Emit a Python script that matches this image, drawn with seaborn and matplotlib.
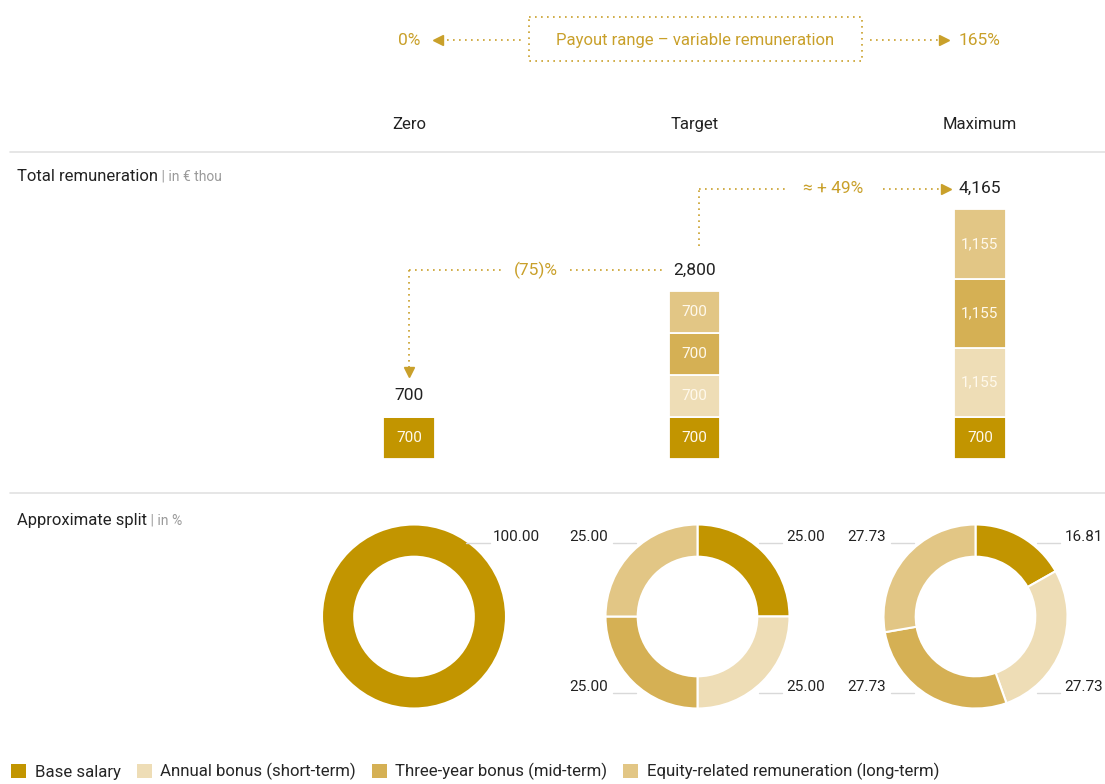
import matplotlib
matplotlib.use("Agg")
import matplotlib.pyplot as plt
from matplotlib.patches import Patch, Rectangle
from matplotlib.transforms import blended_transform_factory
import seaborn as sns
import numpy as np
import pandas as pd

# data
scenarios = ["Zero", "Target", "Maximum"]
components = ["Base salary", "Annual bonus (short-term)",
              "Three-year bonus (mid-term)", "Equity-related remuneration (long-term)"]
base_salary = [700, 700, 700]
annual_bonus = [0, 700, 1155]
three_year_bonus = [0, 700, 1155]
equity_related = [0, 700, 1155]
split_zero = [100.00, 0, 0, 0]
split_target = [25.00, 25.00, 25.00, 25.00]
split_maximum = [16.81, 27.73, 27.73, 27.73]
payout_min = "0%"
payout_max = "165%"
payout_title = "Payout range – variable remuneration"

palette = ["#C29500", "#EEDDB6", "#D5B054", "#E2C685"]
gold = "#C9A02A"
dark = "#222222"
grey_rule = "#e2e2e2"

sns.set_theme(style="white")
plt.rcParams["font.family"] = ["Roboto", "DejaVu Sans"]

W, H = 1105, 784
fig = plt.figure(figsize=(W / 100, H / 100), dpi=100)

def fx(px):
    return px / W

def fy(py):
    return 1 - py / H

# overlay in pixel coordinates for rules and titles
ov = fig.add_axes([0, 0, 1, 1])
ov.set_xlim(0, W)
ov.set_ylim(H, 0)
ov.axis("off")
ov.patch.set_alpha(0)

# bar axes
bx = fig.add_axes([fx(295), fy(458.5), (1094 - 295) / W, 299 / H])
layers = [base_salary, annual_bonus, three_year_bonus, equity_related]
bottom = np.zeros(len(scenarios))
for comp, vals, col in zip(components, layers, palette):
    sns.barplot(x=scenarios, y=vals, color=col, saturation=1, width=0.18,
                bottom=bottom, edgecolor="white", linewidth=1.3, ax=bx)
    for i, v in enumerate(vals):
        if v > 0:
            bx.text(i, bottom[i] + v / 2, f"{v:,}", ha="center", va="center",
                    color="#FFF9EC", fontsize=11)
    bottom = bottom + np.array(vals)
totals = bottom
bx.set_xlim(-0.4, 2.4)
bx.set_ylim(0, 5000)
bx.axis("off")

lab_off = 350
for i, t in enumerate(totals):
    bx.text(i, t + lab_off, f"{int(t):,}", ha="center", va="center", color=dark, fontsize=12.5)

dots = (0, (1, 2.6))
# Zero vs Target connector
p1 = (totals[0] - totals[1]) / totals[1] * 100
y1 = totals[1] + lab_off
bx.plot([0, 0.33], [y1, y1], ls=dots, color=gold, lw=1.2)
bx.plot([0.565, 0.89], [y1, y1], ls=dots, color=gold, lw=1.2)
bx.plot([0, 0], [y1, totals[0] + 800], ls=dots, color=gold, lw=1.2)
bx.plot(0, totals[0] + 740, marker="v", ms=7, color=gold, mec=gold)
bx.text(0.445, y1, f"({abs(p1):.0f})%", ha="center", va="center", color=gold, fontsize=12.5)

# Target vs Maximum connector
p2 = (totals[2] - totals[1]) / totals[1] * 100
y2 = totals[2] + lab_off
bx.plot([1.015, 1.015], [totals[1] + 760, y2], ls=dots, color=gold, lw=1.2)
bx.plot([1.015, 1.32], [y2, y2], ls=dots, color=gold, lw=1.2)
bx.plot([1.66, 1.86], [y2, y2], ls=dots, color=gold, lw=1.2)
bx.plot(1.88, y2, marker=">", ms=7, color=gold, mec=gold)
bx.text(1.485, y2, f"≈ + {p2:.0f}%", ha="center", va="center", color=gold, fontsize=12.5)

# column headers and payout range (x from bar axes, y in pixels)
colx = blended_transform_factory(bx.transData, ov.transData)
for i, s in enumerate(scenarios):
    ov.text(i, 124, s, transform=colx, ha="center", va="center", color=dark, fontsize=12)
ov.text(0, 40, payout_min, transform=colx, ha="center", va="center", color=gold, fontsize=12.5)
ov.text(2, 40, payout_max, transform=colx, ha="center", va="center", color=gold, fontsize=12.5)
ov.add_patch(Rectangle((529, 17), 333, 44, fill=False, ls=dots, ec=gold, lw=1.2))
ov.text(695.5, 40, payout_title, ha="center", va="center", color=gold, fontsize=12)
ov.plot([441, 524], [40, 40], ls=dots, color=gold, lw=1.2)
ov.plot(438, 40, marker="<", ms=7, color=gold, mec=gold)
ov.plot([870, 940], [40, 40], ls=dots, color=gold, lw=1.2)
ov.plot(944, 40, marker=">", ms=7, color=gold, mec=gold)

# rules and section titles
ov.plot([10, W], [152, 152], color=grey_rule, lw=1.2)
ov.plot([10, W], [493, 493], color=grey_rule, lw=1.2)
for ty, title, unit in [(176, "Total remuneration", " | in € thou"),
                        (520, "Approximate split", " | in %")]:
    t = ov.text(17, ty, title, ha="left", va="center", color=dark, fontsize=12)
    ov.annotate(unit, xy=(1, 0.02), xycoords=t, ha="left", va="bottom",
                color="#9a9a9a", fontsize=10)

# donuts
splits = [split_zero, split_target, split_maximum]
centers = [414, 697.5, 975.5]
cy = 616.5
for cx, sp in zip(centers, splits):
    ax = fig.add_axes([fx(cx - 115), fy(cy + 115), 230 / W, 230 / H])
    vals = [v for v in sp if v > 0]
    cols = [c for v, c in zip(sp, palette) if v > 0]
    ax.pie(vals, colors=cols, startangle=90, counterclock=False,
           wedgeprops=dict(width=0.35, edgecolor="white", linewidth=1.5))
    ax.set_xlim(-1.25, 1.25)
    ax.set_ylim(-1.25, 1.25)
    ax.set_aspect("equal")
    cum = 0
    for v in vals:
        mid = np.deg2rad(90 - (cum + v / 2) * 3.6)
        cum += v
        if len(vals) == 1:
            sx, sy, tx = 1, 1, 0.86
        else:
            sx = 1 if np.cos(mid) >= 0 else -1
            sy = 1 if np.sin(mid) >= 0 else -1
            tx = 0.97
        ty = 0.86 if sy > 0 else -0.77
        ly = 0.80 if sy > 0 else -0.83
        x0 = tx - 0.29 if len(vals) == 1 else 0.67
        x1 = tx - 0.03 if len(vals) == 1 else 0.92
        ax.plot([sx * x0, sx * x1], [ly, ly], color="#d9d9d9", lw=1, clip_on=False)
        ax.text(sx * tx, ty, f"{v:.2f}", ha="left" if sx > 0 else "right", va="center",
                color=dark, fontsize=11, clip_on=False)

# legend
handles = [Patch(facecolor=c, edgecolor="none", label=l) for c, l in zip(palette, components)]
fig.legend(handles=handles, loc="lower left", bbox_to_anchor=(0.004, -0.004), ncol=4,
           frameon=False, handlelength=0.9, handleheight=0.9, handletextpad=0.5,
           columnspacing=0.95, fontsize=12.1, borderaxespad=0)

fig.savefig("out.png", dpi=100)
